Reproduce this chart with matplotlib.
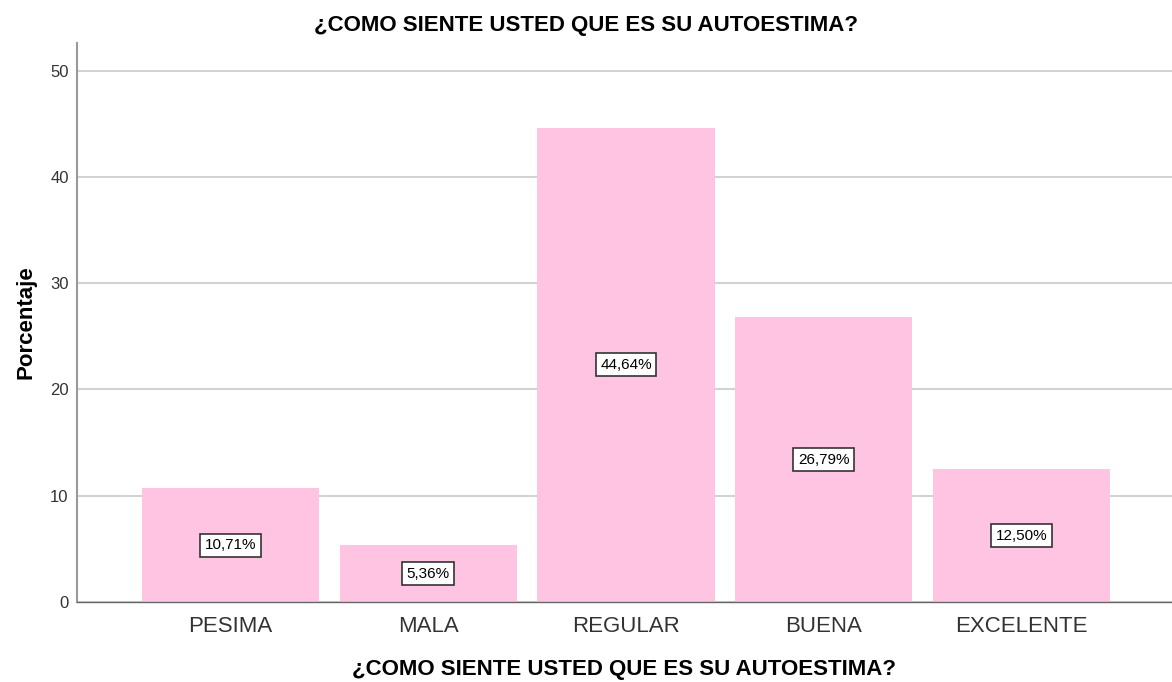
import matplotlib
matplotlib.use("Agg")
import matplotlib.pyplot as plt

categorias = ["PESIMA", "MALA", "REGULAR", "BUENA", "EXCELENTE"]
porcentajes = [10.71, 5.36, 44.64, 26.79, 12.50]
etiquetas = ["10,71%", "5,36%", "44,64%", "26,79%", "12,50%"]
titulo = "¿COMO SIENTE USTED QUE ES SU AUTOESTIMA?"

plt.rcParams['font.family'] = ['Liberation Sans', 'DejaVu Sans']

fig = plt.figure(figsize=(11.72, 6.82), dpi=100)
ax = fig.add_axes([77 / 1172, 80 / 682, 1 - 77 / 1172, 559 / 682])

x = range(len(categorias))
ax.bar(x, porcentajes, width=0.896, color="#fec4e2", zorder=2)

for i, (v, t) in enumerate(zip(porcentajes, etiquetas)):
    ax.text(i, v / 2, t, ha="center", va="center", fontsize=11, color="black", zorder=3,
            bbox=dict(boxstyle="square,pad=0.3", fc="white", ec="#333333", lw=1.2))

ax.set_xlim(-0.777, 4.762)
ax.set_ylim(0, 52.6)
ax.set_yticks([0, 10, 20, 30, 40, 50])
ax.set_xticks(list(x))
ax.set_xticklabels(categorias, fontsize=16, color="#333333")
ax.tick_params(axis="y", labelsize=12, colors="#333333", length=0, pad=6)
ax.tick_params(axis="x", length=0, pad=10)
ax.grid(axis="y", color="#d2d2d2", lw=1.5, zorder=1)

for s in ["top", "right"]:
    ax.spines[s].set_visible(False)
ax.spines["left"].set_color("#999999")
ax.spines["left"].set_linewidth(1.5)
ax.spines["bottom"].set_color("#666666")
ax.spines["bottom"].set_linewidth(1)

ax.set_ylabel("Porcentaje", fontsize=16, fontweight="bold", labelpad=10)
ax.set_xlabel(titulo, fontsize=16, fontweight="bold", labelpad=16)
fig.text(586, 682 - 25, titulo, transform=None, ha="center", va="center",
         fontsize=16, fontweight="bold")

fig.savefig("out.png", dpi=100)
